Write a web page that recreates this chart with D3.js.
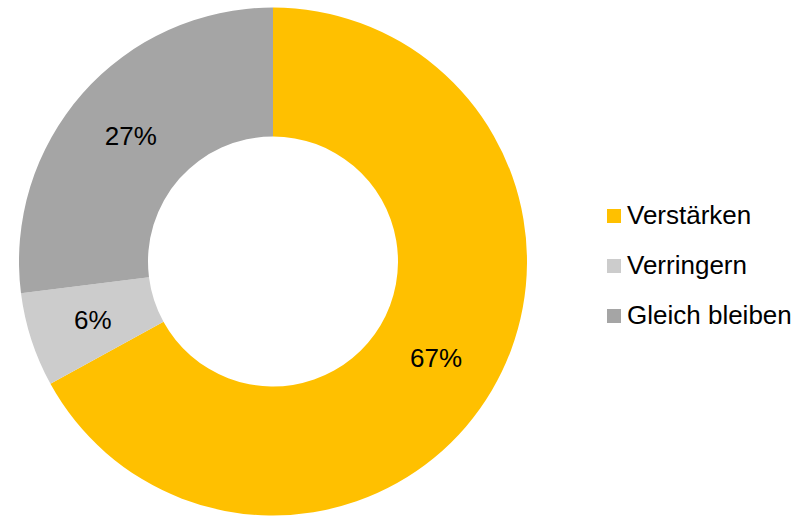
<!DOCTYPE html>
<html>
<head>
<meta charset="utf-8">
<script src="https://cdn.jsdelivr.net/npm/d3@7"></script>
<style>
body{margin:0;background:#fff;}
svg{display:block;font-family:"Liberation Sans",Arial,sans-serif;}
</style>
</head>
<body>
<svg id="chart" width="807" height="516"></svg>
<script>
const categories = ["Verstärken", "Verringern", "Gleich bleiben"];
const values = [67, 6, 27];
const labels = ["67%", "6%", "27%"];
const colors = ["#FFC000", "#CCCCCC", "#A5A5A5"];

const svg = d3.select("#chart");
const cx = 273, cy = 261.5, outerR = 254, innerR = 125;

const pie = d3.pie().sort(null).value(d => d)(values);
const arc = d3.arc().innerRadius(innerR).outerRadius(outerR);
const g = svg.append("g").attr("transform", `translate(${cx},${cy})`);

g.selectAll("path").data(pie).enter().append("path")
  .attr("d", arc)
  .attr("fill", (d, i) => colors[i]);

g.selectAll("text").data(pie).enter().append("text")
  .attr("transform", d => `translate(${arc.centroid(d)})`)
  .attr("text-anchor", "middle")
  .attr("dy", "0.35em")
  .attr("font-size", 26)
  .attr("fill", "#000")
  .text((d, i) => labels[i]);

const legendY = d3.scalePoint().domain(categories).range([216, 316]);
const leg = svg.append("g");
categories.forEach((c, i) => {
  const y = legendY(c);
  leg.append("rect").attr("x", 607).attr("y", y - 7).attr("width", 14).attr("height", 14).attr("fill", colors[i]);
  leg.append("text").attr("x", 627).attr("y", y + 8)
    .attr("font-size", 26).attr("fill", "#000").text(c);
});
</script>
</body>
</html>
